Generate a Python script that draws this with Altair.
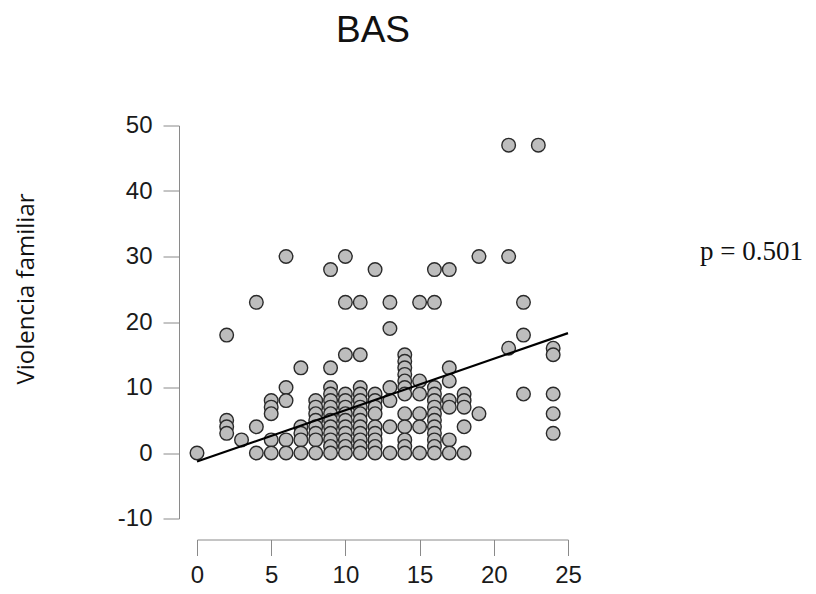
import altair as alt
import pandas as pd

# ---- data (BAS score vs. Violencia familiar) ----
col_x = [0, 2, 3, 4, 5, 6, 7, 8, 9, 10, 11, 12, 13, 14, 15, 16, 17, 18, 19, 21, 22, 23, 24]
col_y = [
    [0],
    [18, 5, 4, 3],
    [2],
    [23, 4, 0],
    [8, 7, 6, 2, 0],
    [30, 10, 8, 2, 0],
    [13, 4, 3, 2, 0],
    [8, 7, 6, 5, 4, 3, 2, 0],
    [28, 13, 10, 9, 8, 7, 6, 5, 4, 3, 2, 1, 0],
    [30, 23, 15, 9, 8, 7, 6, 5, 4, 3, 2, 1, 0],
    [23, 15, 10, 9, 8, 7, 6, 5, 4, 3, 2, 1, 0],
    [28, 9, 8, 7, 6, 4, 3, 2, 1, 0],
    [23, 19, 10, 8, 4, 0],
    [15, 14, 13, 12, 11, 10, 9, 6, 4, 2, 1, 0],
    [23, 11, 9, 6, 4, 0],
    [28, 23, 10, 9, 8, 7, 6, 5, 4, 3, 2, 1, 0],
    [28, 13, 11, 8, 7, 2, 0],
    [9, 8, 7, 4, 0],
    [30, 6],
    [47, 30, 16],
    [23, 18, 9],
    [47],
    [16, 15, 9, 6, 3],
]
bas = [x for x, ys in zip(col_x, col_y) for _ in ys]
violencia = [y for ys in col_y for y in ys]

fit_x = [0, 25]
fit_y = [-1.3, 18.3]

x_ticks = [0, 5, 10, 15, 20, 25]
y_ticks = [-10, 0, 10, 20, 30, 40, 50]

title_text = "BAS"
y_title = "Violencia familiar"
p_text = "p = 0.501"

pts = pd.DataFrame({"BAS": bas, "Violencia": violencia})
fit = pd.DataFrame({"BAS": fit_x, "Violencia": fit_y})

xscale = alt.Scale(domain=[0, 25], nice=False, zero=False)
yscale = alt.Scale(domain=[-10, 50], nice=False, zero=False)

axis_common = dict(
    title=None, grid=False, tickSize=16, labelFontSize=24,
    labelFont="Liberation Sans", labelColor="#1a1a1a",
    domainColor="#8a8a8a", tickColor="#8a8a8a", domainWidth=1, tickWidth=1,
    labelFlush=False, labelOverlap=False, labelExpr="'' + datum.value",
)
xaxis = alt.Axis(values=x_ticks, offset=21, labelPadding=8, **axis_common)
yaxis = alt.Axis(values=y_ticks, offset=18, labelPadding=11, **axis_common)

points = alt.Chart(pts).mark_circle(
    size=185, color="#bdbdbd", stroke="#2a2a2a", strokeWidth=1.4, opacity=1
).encode(
    x=alt.X("BAS:Q", scale=xscale, axis=xaxis),
    y=alt.Y("Violencia:Q", scale=yscale, axis=yaxis),
)

line = alt.Chart(fit).mark_line(color="black", strokeWidth=2.2).encode(
    x=alt.X("BAS:Q", scale=xscale),
    y=alt.Y("Violencia:Q", scale=yscale),
)

title = alt.Chart(pd.DataFrame({"t": [title_text]})).mark_text(
    font="Liberation Sans", fontSize=37, color="#111111", align="center", baseline="alphabetic"
).encode(text="t:N", x=alt.value(176), y=alt.value(-83.5))

ytitle = alt.Chart(pd.DataFrame({"t": [y_title]})).mark_text(
    font="Open Sans", fontSize=24, color="#111111", align="center", baseline="middle", angle=270
).encode(text="t:N", x=alt.value(-170), y=alt.value(163.5))

ptxt = alt.Chart(pd.DataFrame({"t": [p_text]})).mark_text(
    font="Liberation Serif", fontSize=27, color="#111111", align="left", baseline="alphabetic"
).encode(text="t:N", x=alt.value(503), y=alt.value(134.5))

chart = alt.layer(points, line, title, ytitle, ptxt).properties(
    width=371, height=393,
    padding={"left": 189, "top": 117.5, "right": 240, "bottom": 70},
    autosize=alt.AutoSizeParams(type="none"),
).configure_view(stroke=None)

chart.save("out.html", embed_options={"renderer": "svg", "actions": False})
